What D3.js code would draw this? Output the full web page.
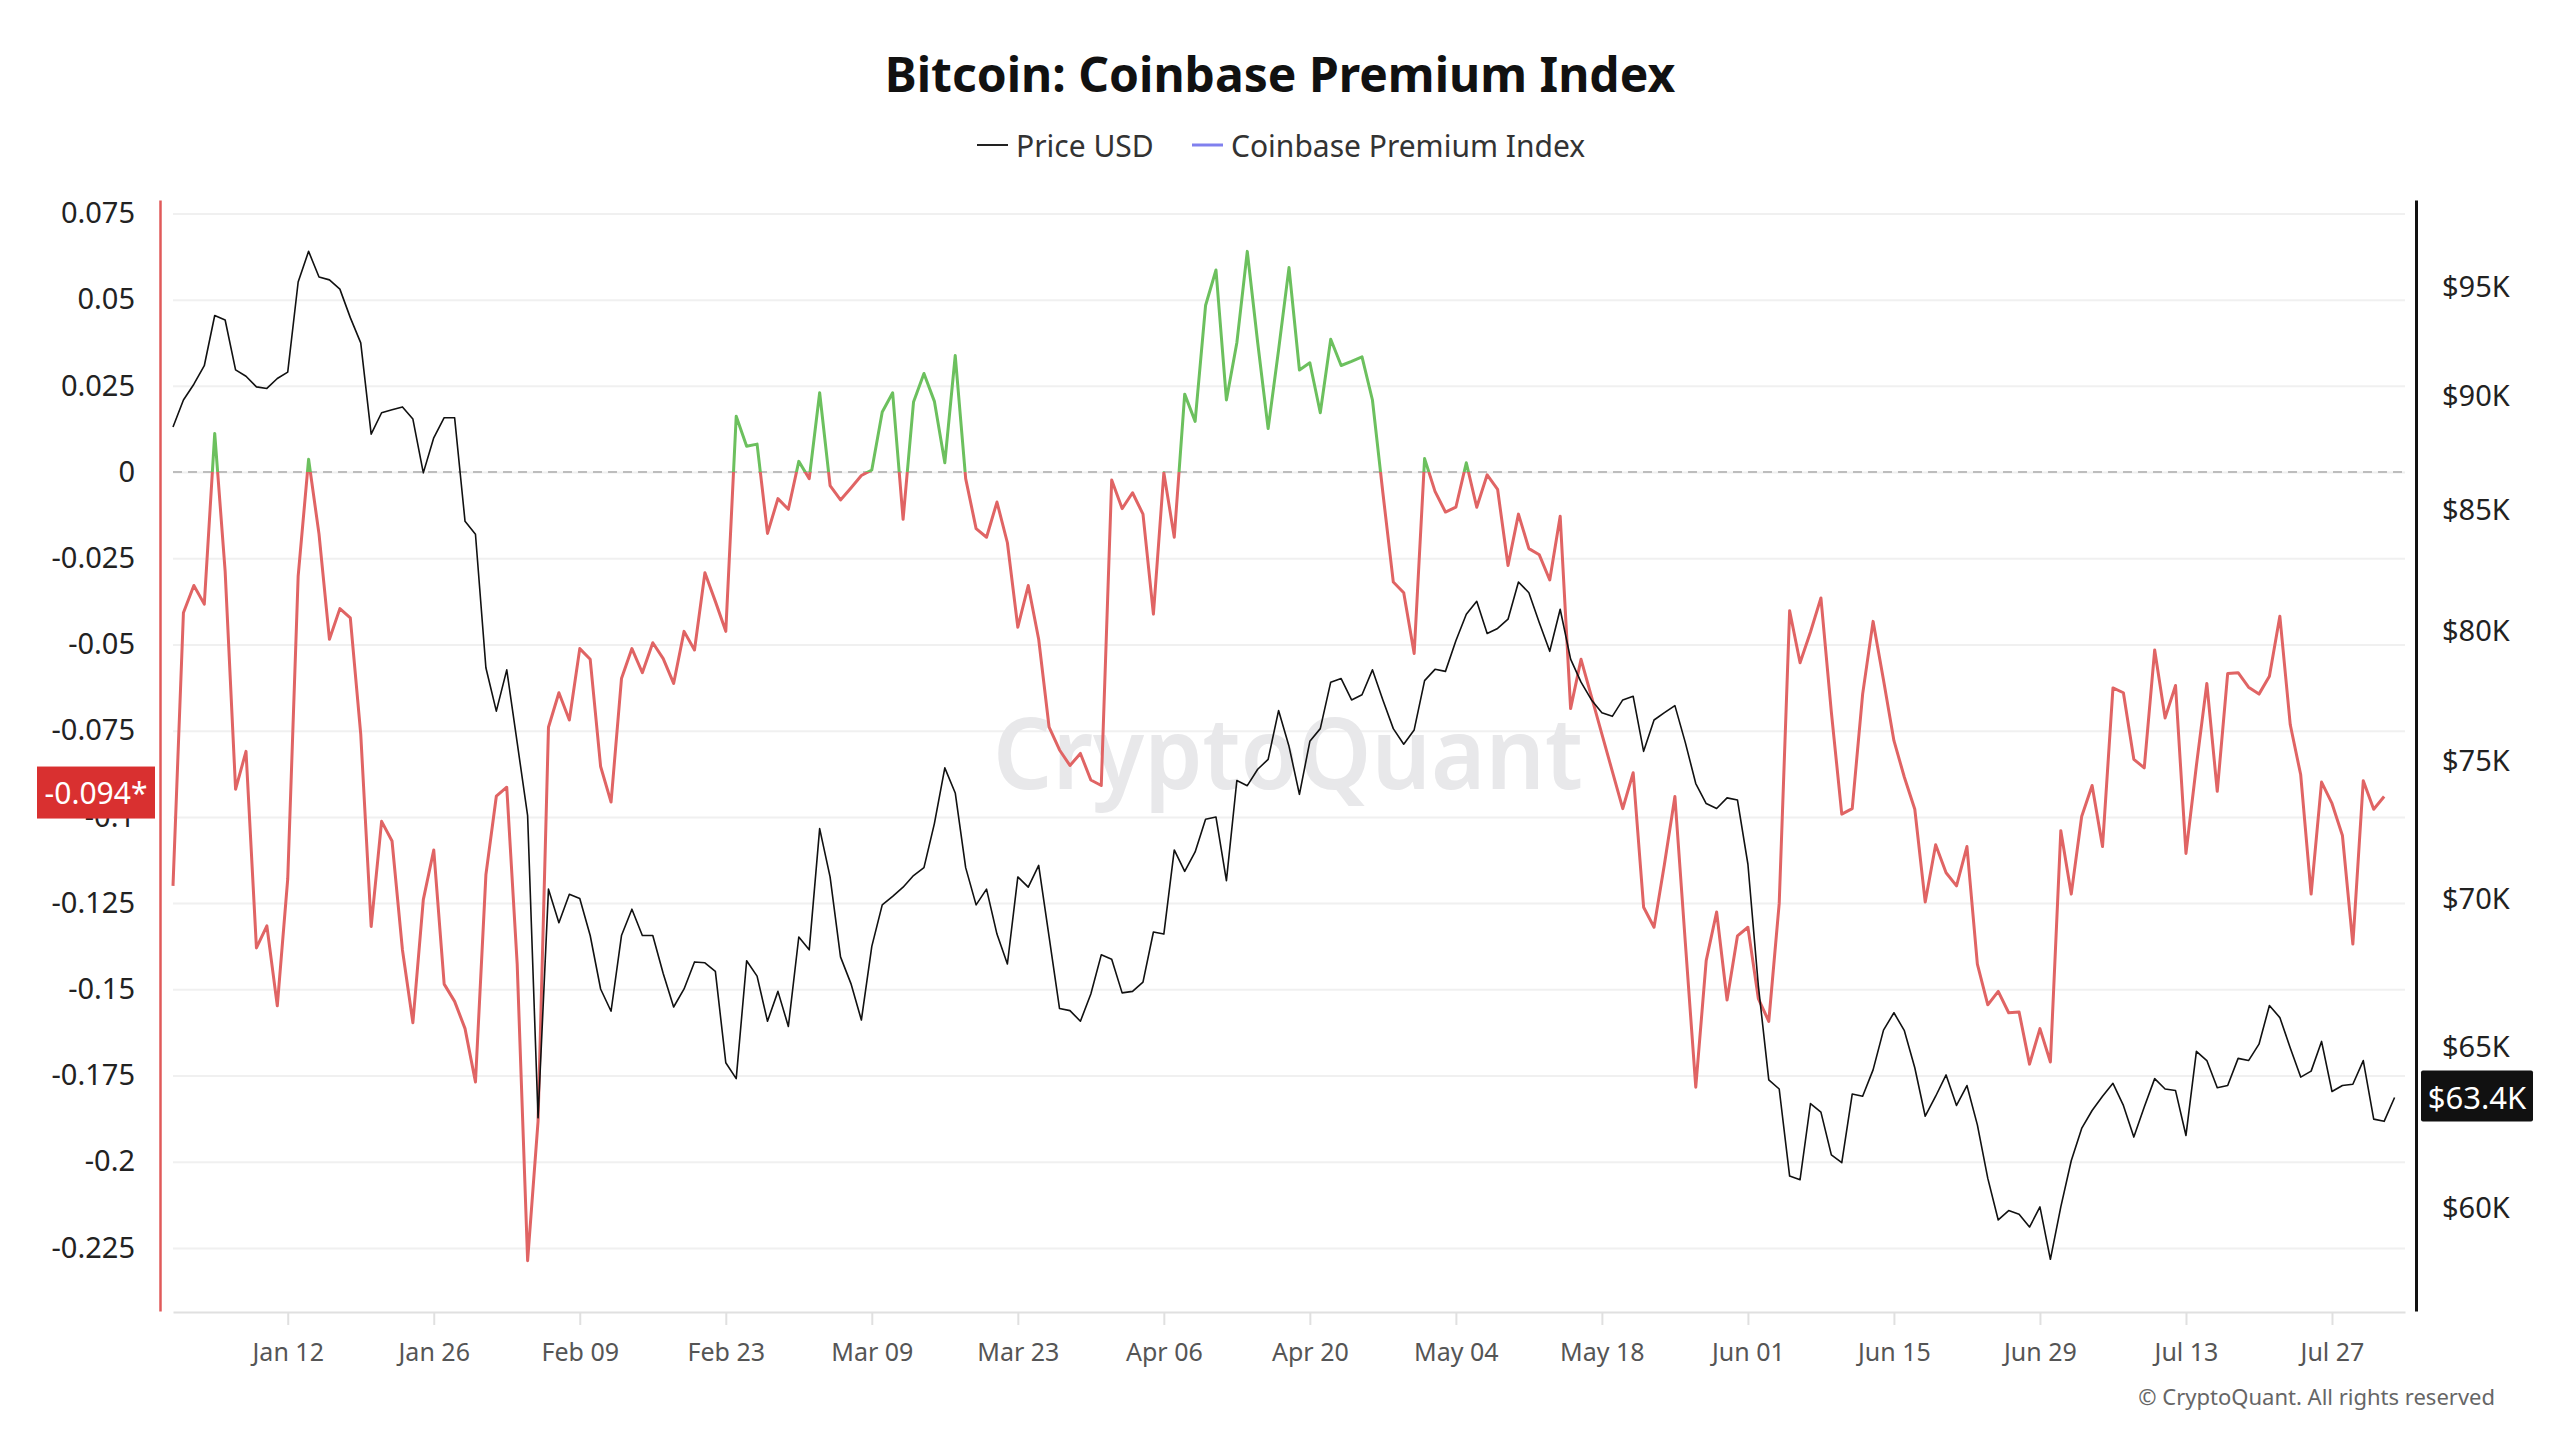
<!DOCTYPE html>
<html>
<head>
<meta charset="utf-8">
<script src="https://cdn.jsdelivr.net/npm/d3@7"></script>
<style>
  body { margin: 0; background: #fff; }
  text { font-family: "Noto Sans", sans-serif; }
</style>
</head>
<body>
<script>
// daily series, first value is Jan 01
const startDay = new Date(2026, 0, 1)

const premium = [
  -0.120, -0.0408, -0.0329, -0.0383, 0.0112, -0.0288, -0.092, -0.081, -0.138, -0.1316,
  -0.1548, -0.118, -0.0302, 0.0037, -0.018, -0.0485, -0.0396, -0.0423, -0.076, -0.1318,
  -0.1013, -0.107, -0.1386, -0.1597, -0.124, -0.1096, -0.1485, -0.1535, -0.1614, -0.1769,
  -0.1168, -0.094, -0.0914, -0.1427, -0.2287, -0.1883, -0.074, -0.064, -0.0719, -0.0512,
  -0.0543, -0.0854, -0.0957, -0.0599, -0.0512, -0.0582, -0.0495, -0.0541, -0.0613, -0.0462,
  -0.0516, -0.0292, -0.0375, -0.0462, 0.0162, 0.0075, 0.0081, -0.0178, -0.0077, -0.0108,
  0.0031, -0.0019, 0.0230, -0.0039, -0.0081, -0.0046, -0.0010, 0.0006, 0.0174, 0.0230,
  -0.0137, 0.0203, 0.0286, 0.0205, 0.0027, 0.0338, -0.0019, -0.0164, -0.0189, -0.0087,
  -0.0205, -0.0450, -0.0329, -0.0485, -0.0740, -0.0806, -0.0851, -0.0816, -0.0893, -0.0909,
  -0.0023, -0.0106, -0.0060, -0.0122, -0.0412, -0.0002, -0.0189, 0.0226, 0.0147, 0.0483,
  0.0586, 0.0209, 0.0375, 0.0640, 0.0375, 0.0126, 0.0354, 0.0593, 0.0296, 0.0317,
  0.0172, 0.0385, 0.0309, 0.0321, 0.0334, 0.0209, -0.0060, -0.0319, -0.0350, -0.0526,
  0.0039, -0.0056, -0.0116, -0.0102, 0.0027, -0.0102, -0.0008, -0.0050, -0.0271, -0.0122,
  -0.0222, -0.0240, -0.0313, -0.0128, -0.0686, -0.0543, -0.0651, -0.0760, -0.0868, -0.0976,
  -0.0872, -0.1262, -0.1320, -0.1137, -0.0941, -0.1365, -0.1784, -0.1417, -0.1276, -0.1531,
  -0.1345, -0.1320, -0.1527, -0.1593, -0.1251, -0.0402, -0.0553, -0.0464, -0.0365, -0.0696,
  -0.0992, -0.0976, -0.0644, -0.0433, -0.0603, -0.0779, -0.0885, -0.0978, -0.1247, -0.1081,
  -0.1162, -0.1200, -0.1086, -0.1427, -0.1545, -0.1506, -0.1568, -0.1566, -0.1717, -0.1614,
  -0.1711, -0.1040, -0.1224, -0.0999, -0.0909, -0.1086, -0.0626, -0.0640, -0.0833, -0.0858,
  -0.0516, -0.0713, -0.0619, -0.1106, -0.0851, -0.0613, -0.0926, -0.0584, -0.0582, -0.0624,
  -0.0644, -0.0592, -0.0418, -0.0733, -0.0878, -0.1224, -0.0899, -0.0961, -0.1054, -0.1369,
  -0.0895, -0.0978, -0.0941
]

const price = [
  88610, 89810, 90520, 91360, 93680, 93470, 91170, 90880, 90400, 90330,
  90780, 91070, 95260, 96730, 95500, 95360, 94920, 93580, 92410, 88290,
  89240, 89370, 89500, 88960, 86600, 88130, 89020, 89020, 84530, 83990,
  78570, 76890, 78490, 75690, 72980, 62760, 70350, 69180, 70170, 70020,
  68740, 66930, 66190, 68740, 69650, 68740, 68740, 67450, 66330, 66930,
  67840, 67810, 67520, 64510, 64000, 67880, 67360, 65860, 66850, 65690,
  68690, 68250, 72510, 70780, 68010, 67110, 65900, 68370, 69800, 70100,
  70420, 70830, 71110, 72690, 74740, 73810, 71110, 69800, 70350, 68790,
  67770, 70780, 70420, 71190, 68690, 66280, 66210, 65860, 66760, 68080,
  67930, 66800, 66850, 67160, 68860, 68790, 71740, 70980, 71670, 72850,
  72930, 70650, 74270, 74080, 74690, 75060, 76910, 75550, 73760, 75740,
  76220, 78010, 78150, 77320, 77520, 78490, 77320, 76220, 75630, 76170,
  78070, 78510, 78430, 79640, 80700, 81220, 79930, 80130, 80500, 82010,
  81570, 80360, 79220, 80900, 78910, 78010, 77320, 76830, 76690, 77320,
  77460, 75360, 76550, 76830, 77100, 75690, 74160, 73420, 73240, 73630,
  73550, 71230, 67040, 63960, 63670, 60960, 60850, 63210, 62940, 61610,
  61370, 63510, 63440, 64280, 65570, 66140, 65550, 64350, 62810, 63440,
  64120, 63150, 63780, 62540, 60890, 59640, 59920, 59810, 59430, 60030,
  58480, 60030, 61430, 62430, 62990, 63440, 63850, 63150, 62160, 63100,
  64000, 63670, 63620, 62210, 64880, 64580, 63710, 63780, 64650, 64580,
  65110, 66380, 65980, 64990, 64050, 64240, 65200, 63590, 63780, 63820,
  64580, 62720, 62650, 63400
]

const premiumTicks = [0.075, 0.05, 0.025, 0, -0.025, -0.05, -0.075, -0.1, -0.125, -0.15, -0.175, -0.2, -0.225]
const priceTicks = [60000, 65000, 70000, 75000, 80000, 85000, 90000, 95000]
const dateTicks = ["2026-01-12", "2026-01-26", "2026-02-09", "2026-02-23", "2026-03-09", "2026-03-23", "2026-04-06",
                   "2026-04-20", "2026-05-04", "2026-05-18", "2026-06-01", "2026-06-15", "2026-06-29", "2026-07-13", "2026-07-27"]
const dateLabels = ["Jan 12", "Jan 26", "Feb 09", "Feb 23", "Mar 09", "Mar 23", "Apr 06",
                    "Apr 20", "May 04", "May 18", "Jun 01", "Jun 15", "Jun 29", "Jul 13", "Jul 27"]

const w = 2560
const h = 1440
const plotLeft = 173, plotRight = 2405, plotTop = 200, plotBottom = 1311

const parseDay = d3.timeParse("%Y-%m-%d")
const dayOf = (i) => d3.timeDay.offset(startDay, i)

const xScale = d3.scaleTime()
                 .domain([startDay, dayOf(214)])
                 .range([plotLeft, plotRight])
const yLeft = d3.scaleLinear()
                .domain([-0.2433, 0.0789])
                .range([plotBottom, plotTop])
const yRight = d3.scaleLog()
                 .domain([56990, 99240])
                 .range([plotBottom, plotTop])

const svg = d3.select("body")
              .append("svg")
              .attr("width", w)
              .attr("height", h)
              .style("background-color", "white")

// title + legend
svg.append("text")
   .attr("x", 1280).attr("y", 73)
   .attr("text-anchor", "middle").attr("dominant-baseline", "central")
   .attr("font-size", 48).attr("font-weight", 700).attr("fill", "#111")
   .text("Bitcoin: Coinbase Premium Index")

const legend = [
  {name: "Price USD", color: "#222", x: 977, width: 2},
  {name: "Coinbase Premium Index", color: "#8080ee", x: 1192, width: 3}
]
legend.forEach((l) => {
  svg.append("line")
     .attr("x1", l.x).attr("x2", l.x + 31)
     .attr("y1", 145).attr("y2", 145)
     .attr("stroke", l.color).attr("stroke-width", l.width)
  svg.append("text")
     .attr("x", l.x + 39).attr("y", 145)
     .attr("dominant-baseline", "central")
     .attr("font-size", 30).attr("fill", "#333")
     .text(l.name)
})

// grid
svg.append("g")
   .attr("transform", "translate(" + plotLeft + ",0)")
   .call(d3.axisLeft(yLeft).tickValues(premiumTicks).tickSize(-(plotRight - plotLeft)).tickFormat(""))
   .call(g => g.select(".domain").remove())
   .call(g => g.selectAll("line").attr("stroke", "#f0f0f0").attr("stroke-width", 2))

// watermark
svg.append("text")
   .attr("x", 1288).attr("y", 750)
   .attr("text-anchor", "middle").attr("dominant-baseline", "central")
   .attr("font-size", 100).attr("font-weight", 600).attr("fill", "#e8e8ea")
   .attr("textLength", 590).attr("lengthAdjust", "spacingAndGlyphs")
   .text("CryptoQuant")

// zero line
svg.append("line")
   .attr("x1", plotLeft).attr("x2", plotRight)
   .attr("y1", yLeft(0)).attr("y2", yLeft(0))
   .attr("stroke", "#bdbdbd").attr("stroke-width", 2)
   .attr("stroke-dasharray", "9,6")

// x axis
svg.append("g")
   .attr("transform", "translate(0," + (plotBottom + 1) + ")")
   .call(d3.axisBottom(xScale)
           .tickValues(dateTicks.map(parseDay))
           .tickFormat((d, i) => dateLabels[i])
           .tickSize(13).tickPadding(18).tickSizeOuter(0))
   .call(g => g.select(".domain").attr("stroke", "#e0e0e0").attr("stroke-width", 2))
   .call(g => g.selectAll(".tick line").attr("stroke", "#e0e0e0").attr("stroke-width", 2))
   .call(g => g.selectAll("text").attr("font-size", 25).attr("fill", "#555").attr("font-family", "Noto Sans"))

// left axis
svg.append("g")
   .attr("transform", "translate(160,0)")
   .call(d3.axisLeft(yLeft).tickValues(premiumTicks).tickFormat((d) => String(d))
           .tickSize(0).tickPadding(25).tickSizeOuter(0))
   .call(g => g.select(".domain").attr("stroke", "#e05a5a").attr("stroke-width", 2.5))
   .call(g => g.selectAll("text").attr("font-size", 29).attr("fill", "#222").attr("font-family", "Noto Sans"))

// right axis
svg.append("g")
   .attr("transform", "translate(2416,0)")
   .call(d3.axisRight(yRight).tickValues(priceTicks).tickFormat((d) => "$" + d / 1000 + "K")
           .tickSize(0).tickPadding(26).tickSizeOuter(0))
   .call(g => g.select(".domain").attr("stroke", "#111").attr("stroke-width", 3))
   .call(g => g.selectAll("text").attr("font-size", 29).attr("fill", "#222").attr("font-family", "Noto Sans"))

// premium line, green above zero, red below
const defs = svg.append("defs")
defs.append("clipPath").attr("id", "clip-pos")
    .append("rect").attr("x", 0).attr("y", 0).attr("width", w).attr("height", yLeft(0))
defs.append("clipPath").attr("id", "clip-neg")
    .append("rect").attr("x", 0).attr("y", yLeft(0)).attr("width", w).attr("height", h - yLeft(0))

const premiumLine = d3.line()
                      .x((d, i) => xScale(dayOf(i)))
                      .y((d) => yLeft(d))

svg.append("path")
   .datum(premium)
   .attr("d", premiumLine)
   .attr("fill", "none").attr("stroke", "#6cc05e").attr("stroke-width", 3)
   .attr("stroke-linejoin", "round")
   .attr("clip-path", "url(#clip-pos)")
svg.append("path")
   .datum(premium)
   .attr("d", premiumLine)
   .attr("fill", "none").attr("stroke", "#e06464").attr("stroke-width", 3)
   .attr("stroke-linejoin", "round")
   .attr("clip-path", "url(#clip-neg)")

// price line
const priceLine = d3.line()
                    .x((d, i) => xScale(dayOf(i)))
                    .y((d) => yRight(d))
svg.append("path")
   .datum(price)
   .attr("d", priceLine)
   .attr("fill", "none").attr("stroke", "#111").attr("stroke-width", 1.6)
   .attr("stroke-linejoin", "round")

// last value badges
const lastPremium = premium[premium.length - 1]
const lastPrice = price[price.length - 1]

svg.append("rect")
   .attr("x", 37).attr("y", yLeft(lastPremium) - 30)
   .attr("width", 118).attr("height", 52)
   .attr("fill", "#d93030")
svg.append("text")
   .attr("x", 96).attr("y", yLeft(lastPremium) - 4)
   .attr("text-anchor", "middle").attr("dominant-baseline", "central")
   .attr("font-size", 30).attr("fill", "#fff")
   .text(d3.format(".3f")(lastPremium).replace("−", "-") + "*")

svg.append("rect")
   .attr("x", 2421).attr("y", yRight(lastPrice) - 27)
   .attr("width", 112).attr("height", 51)
   .attr("rx", 2)
   .attr("fill", "#111")
svg.append("text")
   .attr("x", 2477).attr("y", yRight(lastPrice) - 1)
   .attr("text-anchor", "middle").attr("dominant-baseline", "central")
   .attr("font-size", 31).attr("fill", "#fff")
   .text("$" + d3.format(".1f")(lastPrice / 1000) + "K")

// footer
svg.append("text")
   .attr("x", 2495).attr("y", 1396)
   .attr("text-anchor", "end").attr("dominant-baseline", "central")
   .attr("font-size", 22).attr("fill", "#666")
   .text("© CryptoQuant. All rights reserved")
</script>
</body>
</html>
